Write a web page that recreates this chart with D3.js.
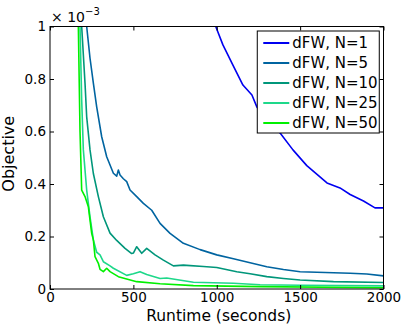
<!DOCTYPE html>
<html>
<head>
<meta charset="utf-8">
<script src="https://cdn.jsdelivr.net/npm/d3@7"></script>
<style>
  body { margin: 0; background: #fff; }
  text { font-family: "DejaVu Sans", sans-serif; fill: #000; }
</style>
</head>
<body>
<figure id="chart" style="margin:0"></figure>
<script>
// values are in units of 1e-3
const seriesNames = ["dFW, N=1", "dFW, N=5", "dFW, N=10", "dFW, N=25", "dFW, N=50"];

const timeN1 = [960, 994, 1037, 1097, 1157, 1211, 1241, 1300, 1380, 1457, 1540, 1661, 1739, 1800, 1880, 1949, 2000];
const objN1 = [1.1, 1.0, 0.93, 0.853, 0.777, 0.739, 0.693, 0.64, 0.594, 0.53, 0.47, 0.404, 0.385, 0.36, 0.335, 0.309, 0.309];

const timeN5 = [200, 220, 240, 260, 280, 310, 340, 380, 400, 410, 420, 440, 460, 480, 520, 560, 610, 660, 720, 800, 900, 1000, 1100, 1200, 1300, 1400, 1500, 1600, 1700, 1800, 1900, 2000];
const objN5 = [1.2, 1.0, 0.879, 0.784, 0.694, 0.58, 0.504, 0.441, 0.43, 0.453, 0.434, 0.42, 0.409, 0.377, 0.352, 0.326, 0.30, 0.25, 0.212, 0.174, 0.15, 0.13, 0.115, 0.1, 0.085, 0.074, 0.066, 0.064, 0.062, 0.06, 0.057, 0.05];

const timeN10 = [180, 190, 210, 220, 240, 260, 290, 320, 360, 400, 450, 490, 500, 520, 550, 580, 630, 680, 740, 800, 820, 920, 1000, 1120, 1200, 1300, 1400, 1500, 1700, 2000];
const objN10 = [1.2, 1.0, 0.784, 0.656, 0.53, 0.44, 0.352, 0.275, 0.213, 0.185, 0.155, 0.135, 0.137, 0.161, 0.136, 0.155, 0.13, 0.11, 0.088, 0.091, 0.09, 0.086, 0.082, 0.066, 0.058, 0.047, 0.04, 0.034, 0.028, 0.025];

const timeN25 = [170, 180, 190, 200, 220, 240, 260, 280, 300, 320, 360, 380, 460, 500, 540, 580, 660, 700, 860, 1100, 1260, 1500, 2000];
const objN25 = [1.2, 1.0, 0.72, 0.53, 0.377, 0.275, 0.187, 0.14, 0.13, 0.104, 0.088, 0.079, 0.052, 0.058, 0.066, 0.055, 0.04, 0.042, 0.026, 0.022, 0.016, 0.014, 0.012];

const timeN50 = [160, 170, 180, 190, 210, 230, 250, 260, 270, 290, 300, 320, 340, 360, 410, 520, 660, 860, 1260, 2000];
const objN50 = [1.2, 1.0, 0.6, 0.377, 0.352, 0.313, 0.212, 0.187, 0.123, 0.098, 0.075, 0.066, 0.079, 0.066, 0.047, 0.028, 0.02, 0.013, 0.009, 0.005];

const xTicks = [0, 500, 1000, 1500, 2000];
const yTicks = [0, 0.2, 0.4, 0.6, 0.8, 1];
const colors = ["#0000f0", "#0064a0", "#00967a", "#1ed88a", "#00f000"];

const width = 401, height = 324;
const margin = {top: 26.5, right: 17.5, bottom: 35, left: 50};
const w = width - margin.left - margin.right;
const h = height - margin.top - margin.bottom;

const series = [
  [timeN1, objN1], [timeN5, objN5], [timeN10, objN10], [timeN25, objN25], [timeN50, objN50]
].map((s, i) => ({name: seriesNames[i], color: colors[i], pts: s[0].map((t, j) => [t, s[1][j]])}));

const svg = d3.select("figure#chart")
  .append("svg")
  .attr("width", width)
  .attr("height", height)
  .append("g")
  .attr("transform", "translate(" + margin.left + "," + margin.top + ")");

const x = d3.scaleLinear().domain([0, 2000]).range([0, w]);
const y = d3.scaleLinear().domain([0, 1]).range([h, 0]);

svg.append("clipPath").attr("id", "clip")
  .append("rect").attr("width", w).attr("height", h);

const line = d3.line().x(d => x(d[0])).y(d => y(d[1]));

svg.append("g").attr("clip-path", "url(#clip)")
  .selectAll("path")
  .data(series)
  .enter()
  .append("path")
  .attr("d", d => line(d.pts))
  .attr("fill", "none")
  .attr("stroke", d => d.color)
  .attr("stroke-width", 1.6)
  .attr("stroke-linejoin", "round");

// axes: ticks inward on all sides
const fmtY = d => d === 0 ? "0" : d === 1 ? "1" : d3.format(".1f")(d);
svg.append("g").attr("transform", "translate(0," + h + ")")
  .call(d3.axisBottom(x).tickValues(xTicks).tickSize(-4).tickPadding(3).tickFormat(d3.format("d")));
svg.append("g")
  .call(d3.axisTop(x).tickValues(xTicks).tickSize(-4).tickFormat(""));
svg.append("g")
  .call(d3.axisLeft(y).tickValues(yTicks).tickSize(-4).tickPadding(4).tickFormat(fmtY));
svg.append("g").attr("transform", "translate(" + w + ",0)")
  .call(d3.axisRight(y).tickValues(yTicks).tickSize(-4).tickFormat(""));

svg.selectAll(".domain").remove();
svg.selectAll(".tick line").attr("stroke", "#000");
svg.selectAll(".tick text").attr("font-size", 13.5).attr("fill", "#000");

svg.append("rect")
  .attr("width", w).attr("height", h)
  .attr("fill", "none").attr("stroke", "#000").attr("stroke-width", 1);

// scale label
const sc = svg.append("text").attr("x", 1).attr("y", -5).attr("font-size", 14);
sc.append("tspan").text("\u00d7 10");
sc.append("tspan").attr("dy", -7).attr("font-size", 10).text("\u22123");

svg.append("text")
  .attr("x", w / 2 + 2).attr("y", h + 32)
  .attr("text-anchor", "middle")
  .attr("font-size", 15.5)
  .text("Runtime (seconds)");

svg.append("text")
  .attr("transform", "translate(" + (-36) + "," + (h / 2 - 4) + ") rotate(-90)")
  .attr("text-anchor", "middle")
  .attr("font-size", 16)
  .text("Objective");

// legend
const legend = svg.append("g").attr("transform", "translate(" + (x(1240) + 0.5) + ",4.5)");
legend.append("rect")
  .attr("width", 122).attr("height", 102)
  .attr("fill", "#fff").attr("stroke", "#000").attr("stroke-width", 1);

series.forEach((d, i) => {
  legend.append("line")
    .attr("x1", 6).attr("x2", 32)
    .attr("y1", 12 + i * 20).attr("y2", 12 + i * 20)
    .attr("stroke", d.color).attr("stroke-width", 2);
  legend.append("text")
    .attr("x", 35).attr("y", 17 + i * 20)
    .attr("font-size", 15)
    .text(d.name);
});
</script>
</body>
</html>
